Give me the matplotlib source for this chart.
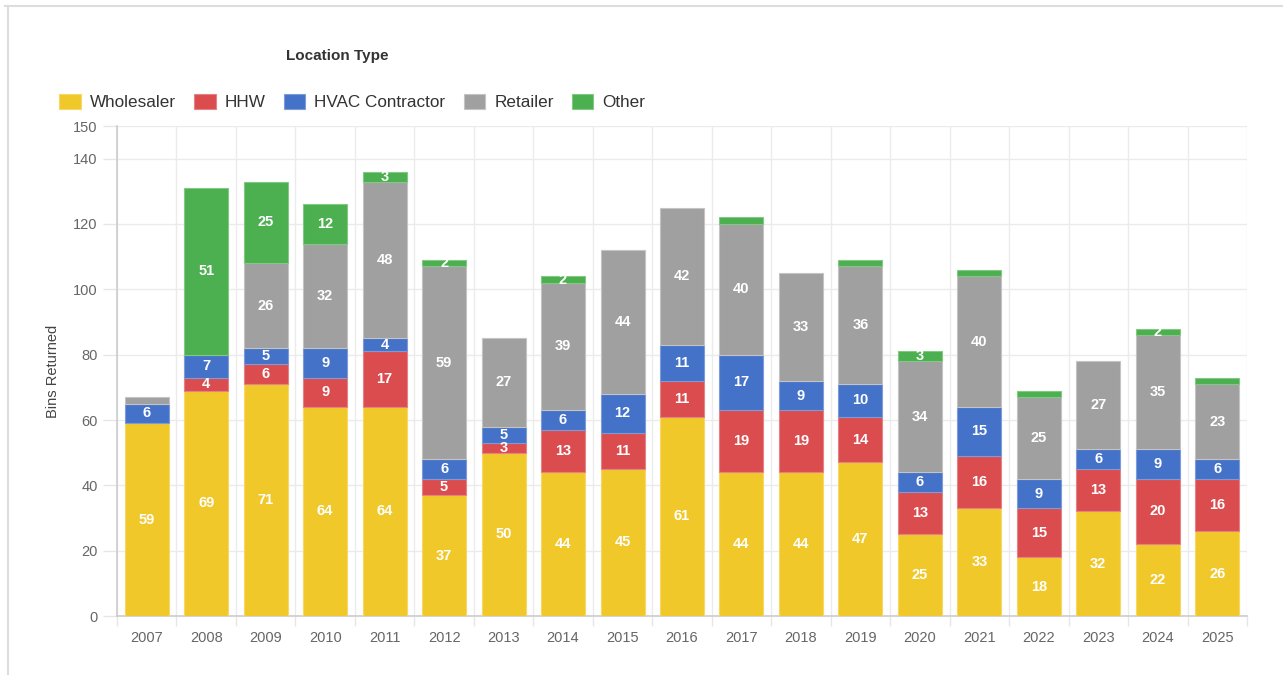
import matplotlib
matplotlib.use("Agg")
import matplotlib.pyplot as plt
from matplotlib.patches import Patch
from matplotlib.lines import Line2D
import numpy as np

plt.rcParams['font.family'] = ['Liberation Sans', 'DejaVu Sans']

years = ["2007", "2008", "2009", "2010", "2011", "2012", "2013", "2014", "2015", "2016",
         "2017", "2018", "2019", "2020", "2021", "2022", "2023", "2024", "2025"]
series_names = ["Wholesaler", "HHW", "HVAC Contractor", "Retailer", "Other"]
wholesaler = [59, 69, 71, 64, 64, 37, 50, 44, 45, 61, 44, 44, 47, 25, 33, 18, 32, 22, 26]
hhw        = [0, 4, 6, 9, 17, 5, 3, 13, 11, 11, 19, 19, 14, 13, 16, 15, 13, 20, 16]
hvac       = [6, 7, 5, 9, 4, 6, 5, 6, 12, 11, 17, 9, 10, 6, 15, 9, 6, 9, 6]
retailer   = [2, 0, 26, 32, 48, 59, 27, 39, 44, 42, 40, 33, 36, 34, 40, 25, 27, 35, 23]
other      = [0, 51, 25, 12, 3, 2, 0, 2, 0, 0, 2, 0, 2, 3, 2, 2, 0, 2, 2]
colors = ["#F1C82A", "#DB4C4F", "#4472C8", "#A0A0A0", "#4CAF50"]
edge_colors = ["#F5D865", "#E58285", "#7C9BD8", "#C4C4C4", "#84C886"]
# labels not drawn in the reference (year index, series index)
hidden_labels = {(0, 3), (10, 4), (12, 4), (14, 4), (15, 4), (18, 4)}

data = [wholesaler, hhw, hvac, retailer, other]

fig = plt.figure(figsize=(12.83, 6.75), dpi=100)
ax = fig.add_axes([117/1283, 1-616/675, 1130/1283, 490/675])

x = np.arange(len(years))
bottom = np.zeros(len(years))
for si, (vals, c, ec) in enumerate(zip(data, colors, edge_colors)):
    vals = np.array(vals, dtype=float)
    lw = np.where(vals > 0, 0.8, 0.0)
    ax.bar(x, vals, bottom=bottom, width=0.74, color=c, edgecolor=ec, linewidth=lw, zorder=3)
    for i, v in enumerate(vals):
        if v > 0 and (i, si) not in hidden_labels:
            ax.text(x[i], bottom[i] + v/2, f"{int(v)}", ha="center", va="center",
                    color="white", fontsize=10.5, fontweight="bold", zorder=4)
    bottom += vals

ax.set_xlim(-0.5, len(years) - 0.5)
ax.set_ylim(0, 150)
ax.set_yticks([0, 20, 40, 60, 80, 100, 120, 140, 150])
ax.set_xticks(x)
ax.set_xticklabels(years)
ax.set_xticks(np.arange(-0.5, len(years)), minor=True)
ax.tick_params(axis="x", which="major", length=0, pad=11, labelsize=10.5, labelcolor="#666666")
ax.tick_params(axis="x", which="minor", length=7, color="#e6e6e6", width=1)
ax.tick_params(axis="y", length=10, color="#e6e6e6", width=1, pad=4, labelsize=10.5, labelcolor="#666666")
ax.grid(axis="y", color="#ebebeb", linewidth=1, zorder=0)
ax.grid(axis="x", which="minor", color="#ebebeb", linewidth=1, zorder=0)
ax.set_axisbelow(True)
for s in ["top", "right"]:
    ax.spines[s].set_visible(False)
ax.spines["left"].set_color("#cccccc")
ax.spines["bottom"].set_color("#cccccc")
ax.spines["left"].set_linewidth(1.2)
ax.spines["bottom"].set_linewidth(1.2)
ax.set_ylabel("Bins Returned", fontsize=10.5, color="#444444", labelpad=9)

fig.text(337/1283, 1-56/675, "Location Type", ha="center", va="center",
         fontsize=11, fontweight="bold", color="#333333")

handles = [Patch(facecolor=c, edgecolor=ec, linewidth=0.8) for c, ec in zip(colors, edge_colors)]
fig.legend(handles, series_names, loc="center left", bbox_to_anchor=(44/1283, 1-102/675),
           ncol=5, frameon=False, fontsize=12.3, handlelength=1.25, handleheight=0.95,
           handletextpad=0.55, columnspacing=1.05, labelcolor="#333333")

# outer frame lines
fig.add_artist(Line2D([5/1283, 1], [1-6/675, 1-6/675], color="#dddddd", linewidth=1.5, transform=fig.transFigure))
fig.add_artist(Line2D([8/1283, 8/1283], [0, 1-6/675], color="#dddddd", linewidth=1.5, transform=fig.transFigure))

fig.savefig("out.png", dpi=100, facecolor="white")
